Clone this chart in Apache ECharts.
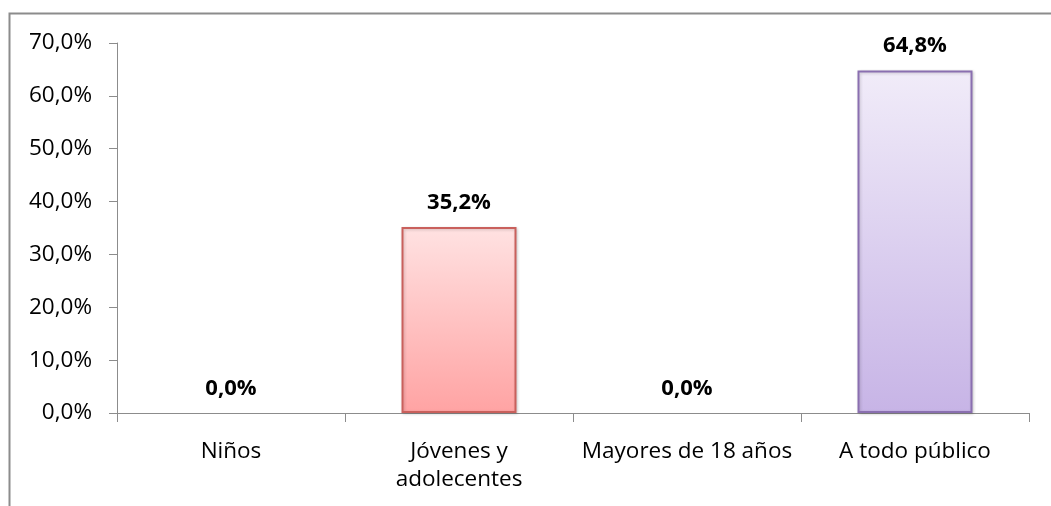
<!DOCTYPE html>
<html>
<head>
<meta charset="utf-8">
<style>
  html, body { margin: 0; padding: 0; background: #ffffff; }
  #chart { width: 1051px; height: 506px; }
</style>
<script src="https://cdn.jsdelivr.net/npm/echarts@6/dist/echarts.min.js"></script>
</head>
<body>
<div id="chart"></div>
<script>
// Público destinatario: porcentaje por categoría
const categories = ['Niños', 'Jóvenes y\nadolecentes', 'Mayores de 18 años', 'A todo público'];
const values = [0.0, 35.2, 0.0, 64.8];
const yTicks = { min: 0, max: 70, interval: 10 };

// Relleno degradado y borde de cada barra (tonos tipo Office)
const barFills = [
  ['#e3ebf7', '#a9c0e4', '#4f81bd'],
  ['#ffe2e2', '#ffa3a3', '#c9605c'],
  ['#eef5e0', '#c3dc96', '#9bbb59'],
  ['#f1ecf9', '#c7b4e6', '#8a6fb0']
];

const fmt = v => v.toFixed(1).replace('.', ',') + '%';
const FONT = '"Open Sans", "Liberation Sans", sans-serif';

const chart = echarts.init(document.getElementById('chart'), null, { renderer: 'canvas' });

chart.setOption({
  animation: false,
  backgroundColor: '#ffffff',
  graphic: [{
    type: 'rect',
    shape: { x: 9.5, y: 13.5, width: 1200, height: 700 },
    style: { fill: 'none', stroke: '#8c8c8c', lineWidth: 2 },
    silent: true,
    z: -1
  }],
  grid: { left: 117, right: 22, top: 43, bottom: 93, containLabel: false },
  xAxis: {
    type: 'category',
    data: categories,
    boundaryGap: true,
    axisLine: { lineStyle: { color: '#8c8c8c', width: 1 } },
    axisTick: { show: true, alignWithLabel: false, length: 9, lineStyle: { color: '#8c8c8c' } },
    axisLabel: {
      interval: 0,
      margin: 25,
      color: '#000000',
      fontFamily: FONT,
      fontSize: 22.5,
      lineHeight: 28
    }
  },
  yAxis: {
    type: 'value',
    min: yTicks.min,
    max: yTicks.max,
    interval: yTicks.interval,
    splitLine: { show: false },
    axisLine: { show: true, lineStyle: { color: '#8c8c8c', width: 1 } },
    axisTick: { show: true, length: 8, lineStyle: { color: '#8c8c8c' } },
    axisLabel: {
      margin: 25,
      color: '#000000',
      fontFamily: FONT,
      fontSize: 22.5,
      formatter: fmt
    }
  },
  series: [{
    type: 'bar',
    barWidth: 115,
    data: values.map((v, i) => ({
      value: v,
      itemStyle: {
        color: new echarts.graphic.LinearGradient(0, 0, 0, 1, [
          { offset: 0, color: barFills[i][0] },
          { offset: 1, color: barFills[i][1] }
        ]),
        borderColor: barFills[i][2],
        borderWidth: v > 0 ? 2 : 0,
        shadowColor: 'rgba(0,0,0,0.18)',
        shadowBlur: 3,
        shadowOffsetX: 1,
        shadowOffsetY: 1
      }
    })),
    label: {
      show: true,
      position: 'top',
      distance: 13.5,
      color: '#000000',
      fontFamily: FONT,
      fontWeight: 'bold',
      fontSize: 22,
      formatter: p => fmt(p.value)
    }
  }]
});
</script>
</body>
</html>
